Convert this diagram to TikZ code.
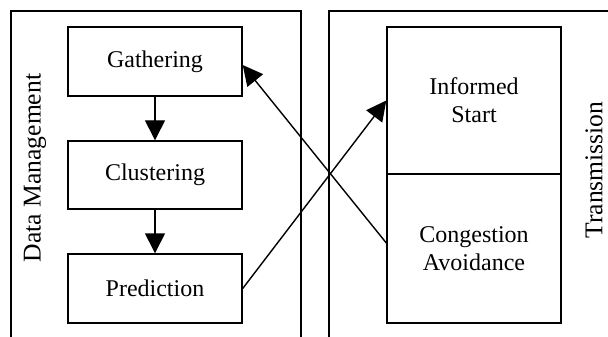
\documentclass[tikz,border=0pt]{standalone}
\usepackage{fontspec}
\setmainfont{Liberation Serif}
\usetikzlibrary{arrows.meta}
\begin{document}
\begin{tikzpicture}[x=0.5pt,y=-0.5pt,
  every node/.style={font=\fontsize{12}{14}\selectfont},
  box/.style={draw,line width=0.7pt,inner sep=0pt,minimum width=87pt,align=center},
  panel/.style={draw,line width=0.7pt},
  conn/.style={line width=0.7pt,-{Triangle[length=10pt,width=10pt]}},
  side/.style={rotate=90,font=\fontsize{12.8}{15}\selectfont}]
\useasboundingbox (0,0) rectangle (608,336);
\begin{scope}
  \clip (0,0) rectangle (608,336);
  \draw[panel] (11,400) -- (11,11) -- (301,11) -- (301,400);
  \draw[panel] (329,400) -- (329,11) -- (640,11);
\end{scope}
\node[side] (dm) at (35,168) {Data Management};
\node[side] (tr) at (594,170) {Transmission};
\node[box,minimum height=34.5pt] (gath) at (155,61.5) {Gathering};
\node[box,minimum height=34pt] (clus) at (155,175) {Clustering};
\node[box,minimum height=34.5pt] (pred) at (155,288.5) {Prediction};
\node[box,minimum height=73.5pt] (inf) at (474,100.5) {Informed\\Start};
\node[box,minimum height=74.5pt] (cong) at (474,248.5) {Congestion\\Avoidance};
\draw[conn] (gath) -- (clus);
\draw[conn] (clus) -- (pred);
\draw[conn] ([yshift=2.75pt]cong.west) -- ([yshift=-1.75pt]gath.east);
\draw[conn] (pred.east) -- (inf.west);
\end{tikzpicture}
\end{document}
